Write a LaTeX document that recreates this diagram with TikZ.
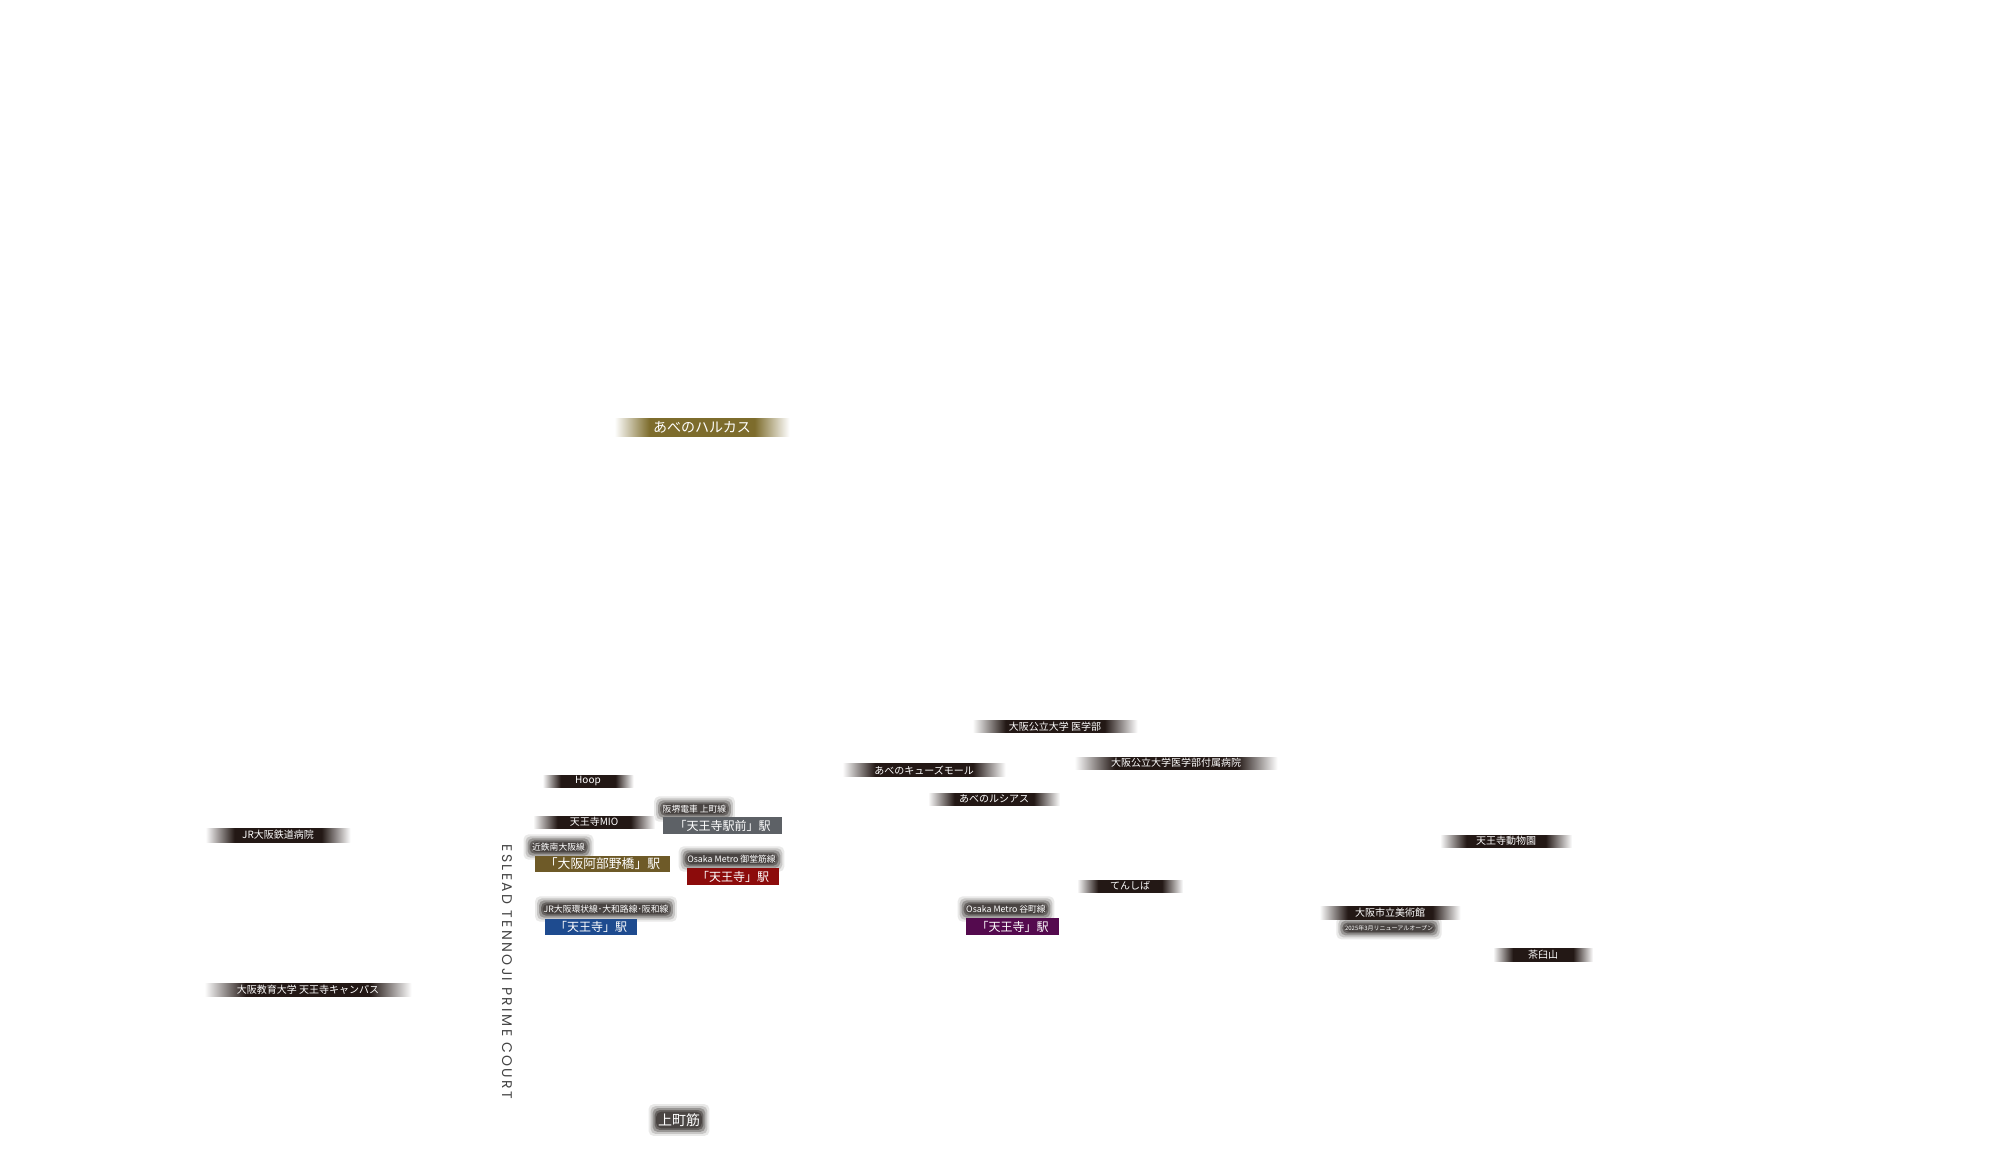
\documentclass[tikz,border=0pt]{standalone}
\usepackage{fontspec}
\newfontfamily\cjk{Noto Sans CJK JP}
\newfontfamily\esl[LetterSpace=17]{Poppins}
\definecolor{bardark}{HTML}{231815}
\definecolor{goldc}{HTML}{7D6C2C}
\definecolor{glowc}{HTML}{2E2826}
\definecolor{eslgray}{HTML}{444444}
\definecolor{hankaic}{HTML}{5D6166}
\definecolor{kintetsuc}{HTML}{6E5A28}
\definecolor{midoc}{HTML}{8C0B0B}
\definecolor{jrc}{HTML}{1E4B8F}
\definecolor{tanic}{HTML}{540A4E}
\pgfdeclarehorizontalshading{barfade}{100bp}{color(0bp)=(white); color(25bp)=(white); color(35bp)=(bardark); color(65bp)=(bardark); color(75bp)=(white); color(100bp)=(white)}
\pgfdeclarehorizontalshading{goldfade}{100bp}{color(0bp)=(white); color(25bp)=(white); color(35bp)=(goldc); color(65bp)=(goldc); color(75bp)=(white); color(100bp)=(white)}
\pgfdeclarelayer{paper}
\pgfdeclarelayer{background}
\pgfsetlayers{paper,background,main}
\newcommand\glowbehind[1]{%
  \begin{pgfonlayer}{background}
    \foreach \g/\o in {3.5/0.1,2.5/0.18,1.5/0.3,0.5/0.45,-0.3/0.5}{%
      \fill[glowc,opacity=\o,rounded corners=2.5pt] ([xshift=-\g pt,yshift=-\g pt]#1.south west) rectangle ([xshift=\g pt,yshift=\g pt]#1.north east);}
  \end{pgfonlayer}}
\begin{document}
\begin{tikzpicture}[x=0.5pt,y=-0.5pt,
  fadebar/.style={shade,shading=barfade,text=white,font=\cjk\fontsize{5}{6}\selectfont,inner sep=0pt,outer sep=0pt},
  goldbar/.style={fadebar,shading=goldfade,font=\cjk\fontsize{7}{8}\selectfont},
  stationbox/.style={text=white,font=\cjk\fontsize{6}{7}\selectfont,inner sep=0pt,outer sep=0pt},
  linelabel/.style={text=white,font=\cjk\fontsize{4.4}{5}\selectfont,inner sep=0.6pt}]
\begin{pgfonlayer}{paper}
\fill[white] (0,0) rectangle (2000,1175);
\end{pgfonlayer}
\useasboundingbox (0,0) rectangle (2000,1175);

% fading bars
\node[goldbar,minimum width=87.5pt,minimum height=9pt] (harukas) at (702,427) {あべのハルカス};
\node[fadebar,minimum width=82.5pt,minimum height=6pt] (idai) at (1055,726.5) {大阪公立大学 医学部};
\node[fadebar,minimum width=81.5pt,minimum height=6.5pt] (qs) at (924,770) {あべのキューズモール};
\node[fadebar,minimum width=101.5pt,minimum height=6pt] (hosp) at (1176,763) {大阪公立大学医学部付属病院};
\node[fadebar,minimum width=66pt,minimum height=6pt] (lucias) at (994,799) {あべのルシアス};
\node[fadebar,minimum width=53pt,minimum height=6pt] (tenshiba) at (1130,886) {てんしば};
\node[fadebar,minimum width=70.5pt,minimum height=6.5pt] (museum) at (1390,913) {大阪市立美術館};
\node[fadebar,minimum width=66pt,minimum height=6pt] (zoo) at (1506,841) {天王寺動物園};
\node[fadebar,minimum width=50pt,minimum height=6.5pt] (chausu) at (1543,955) {茶臼山};
\node[fadebar,minimum width=72.5pt,minimum height=7pt] (jrhosp) at (278,835) {JR大阪鉄道病院};
\node[fadebar,minimum width=103.5pt,minimum height=6.5pt] (kyoiku) at (308,990) {大阪教育大学 天王寺キャンパス};
\node[fadebar,minimum width=45.5pt,minimum height=6pt] (hoop) at (588,781) {Hoop};
\node[fadebar,minimum width=61pt,minimum height=6pt] (mio) at (594,822) {天王寺MIO};

% station boxes
\node[stationbox,fill=hankaic,minimum width=59.5pt,minimum height=8.5pt] (hankai) at (722.5,825.5) {「天王寺駅前」駅};
\node[stationbox,fill=kintetsuc,minimum width=67.5pt,minimum height=8pt,font=\cjk\fontsize{6.4}{7}\selectfont] (kintetsu) at (602.5,864) {「大阪阿部野橋」駅};
\node[stationbox,fill=midoc,minimum width=46pt,minimum height=8.5pt] (mido) at (733,876.5) {「天王寺」駅};
\node[stationbox,fill=jrc,minimum width=46pt,minimum height=8pt] (jr) at (591,927) {「天王寺」駅};
\node[stationbox,fill=tanic,minimum width=46.5pt,minimum height=8.5pt] (tani) at (1012.5,926.5) {「天王寺」駅};

% line labels with glow
\node[linelabel] (hankaiL) at (694.5,809) {阪堺電車 上町線};
\glowbehind{hankaiL}
\node[linelabel] (kintetsuL) at (558.5,847) {近鉄南大阪線};
\glowbehind{kintetsuL}
\node[linelabel] (midoL) at (731.5,859) {Osaka Metro 御堂筋線};
\glowbehind{midoL}
\node[linelabel] (jrL) at (606,909) {JR大阪環状線･大和路線･阪和線};
\glowbehind{jrL}
\node[linelabel] (taniL) at (1006,909) {Osaka Metro 谷町線};
\glowbehind{taniL}
\node[linelabel,font=\cjk\fontsize{3}{3.5}\selectfont] (renewL) at (1389,928) {2025年3月リニューアルオープン};
\glowbehind{renewL}
\node[linelabel,font=\cjk\fontsize{7}{8}\selectfont,inner sep=1pt] (uemachi) at (679,1120) {上町筋};
\glowbehind{uemachi}

% vertical title
\node[rotate=-90,text=eslgray,font=\esl\fontsize{7}{8}\selectfont,inner sep=0pt] (eslead) at (507,972) {ESLEAD TENNOJI PRIME COURT};
\end{tikzpicture}
\end{document}
